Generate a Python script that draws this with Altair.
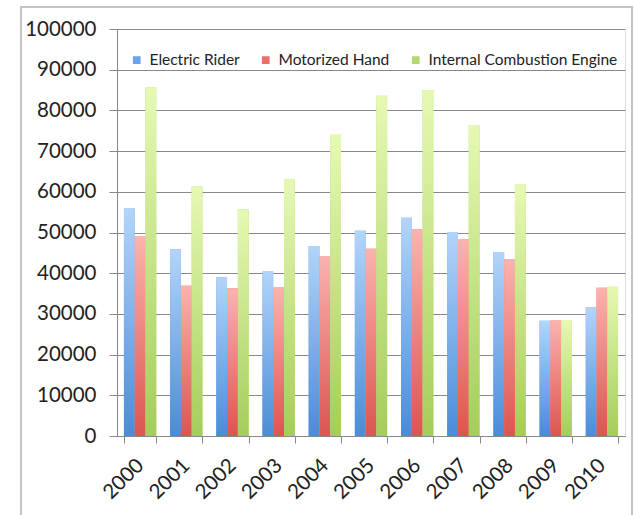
import altair as alt
import pandas as pd

# Yearly counts per vehicle type
years = ["2000", "2001", "2002", "2003", "2004", "2005",
         "2006", "2007", "2008", "2009", "2010"]
series_names = ["Electric Rider", "Motorized Hand", "Internal Combustion Engine"]
electric_rider = [55900, 45900, 39000, 40400, 46700, 50400, 53600, 50100, 45200, 28300, 31600]
motorized_hand = [49000, 36900, 36300, 36500, 44200, 46000, 50800, 48300, 43500, 28400, 36400]
combustion_engine = [85700, 61300, 55700, 63100, 74000, 83600, 85000, 76400, 61900, 28500, 36700]

# Solid legend colours and per-bar gradient stops (top, bottom)
solid_colors = ["#6aa3e6", "#e8716c", "#b4d96e"]
gradient_stops = [("#b3d4fa", "#4a8cd8"), ("#fbb3ae", "#dc5550"), ("#e6f9b4", "#a5cd5a")]

rows = []
for name, vals in zip(series_names, [electric_rider, motorized_hand, combustion_engine]):
    for yr, v in zip(years, vals):
        rows.append({"year": yr, "series": name, "value": v})
df = pd.DataFrame(rows)

FONT = "Lato"
TEXT = "#222222"
GRID = "#888888"

x_enc = alt.X(
    "year:N",
    sort=years,
    title=None,
    scale=alt.Scale(paddingInner=0.3, paddingOuter=0.15),
    axis=alt.Axis(
        labelAngle=-45, labelAlign="right", labelBaseline="middle",
        labelFontSize=20.5, labelColor=TEXT, labelFont=FONT, labelPadding=19,
        tickBand="extent", tickSize=7, tickColor=GRID, domainColor=GRID,
        grid=False,
    ),
)
xoff_enc = alt.XOffset("series:N", sort=series_names,
                       scale=alt.Scale(domain=series_names, paddingInner=0, paddingOuter=0))
y_enc = alt.Y(
    "value:Q",
    title=None,
    scale=alt.Scale(domain=[0, 100000], nice=False),
    axis=alt.Axis(
        values=list(range(0, 100001, 10000)), format="d",
        labelFontSize=20.5, labelColor=TEXT, labelFont=FONT, labelPadding=13,
        tickSize=8, tickColor=GRID, domainColor=GRID,
        grid=True, gridColor=GRID, gridWidth=1,
    ),
)

base = alt.Chart(df).encode(x=x_enc, xOffset=xoff_enc, y=y_enc)

# Solid bars carry the legend; gradient bars are drawn over them
legend_bars = base.mark_bar().encode(
    color=alt.Color(
        "series:N",
        sort=series_names,
        scale=alt.Scale(domain=series_names, range=solid_colors),
        legend=alt.Legend(
            title=None, orient="none", direction="horizontal",
            legendX=12, legendY=23,
            symbolType="square", symbolSize=60, symbolStrokeWidth=0,
            labelFontSize=15.5, labelFont=FONT, labelColor=TEXT, labelLimit=0,
            labelOffset=5, columnPadding=18,
        ),
    )
)

layers = [legend_bars]
for name, (top, bottom) in zip(series_names, gradient_stops):
    layers.append(
        base.transform_filter(alt.datum.series == name).mark_bar(
            fill=alt.Gradient(
                gradient="linear", x1=0, y1=0, x2=0, y2=1,
                stops=[alt.GradientStop(color=top, offset=0),
                       alt.GradientStop(color=bottom, offset=1)],
            )
        )
    )

# Light border around the whole figure
frame = alt.Chart(pd.DataFrame({"k": [0]})).mark_rect(
    filled=False, stroke="#c4c4c4", strokeWidth=2
).encode(x=alt.value(-96), x2=alt.value(515), y=alt.value(-22), y2=alt.value(560))

chart = alt.layer(frame, *layers).properties(
    width=508, height=407,
    padding={"left": 117, "top": 29, "right": 10, "bottom": 79},
    autosize=alt.AutoSizeParams(type="none"),
    background="white",
).configure_view(stroke=None).configure(font=FONT)

chart.save("out.html", embed_options={"renderer": "svg", "actions": False})
